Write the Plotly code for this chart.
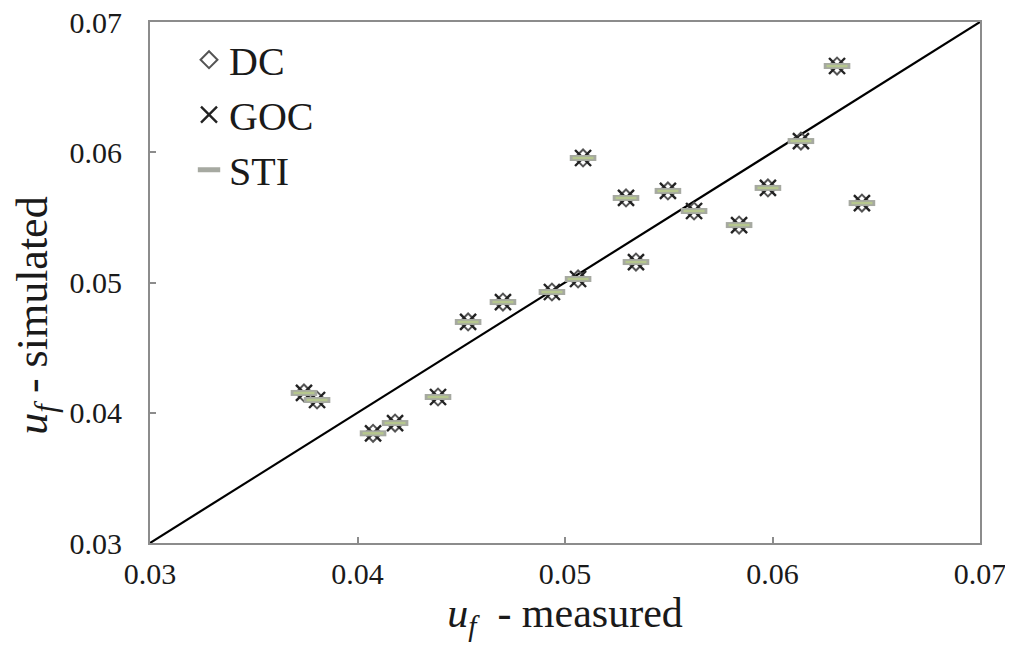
import plotly.graph_objects as go

measured = [0.03742, 0.03805, 0.04075, 0.04181, 0.04388, 0.04533, 0.04701, 0.04937,
            0.05063, 0.05087, 0.05294, 0.05342, 0.05496, 0.05622, 0.05839, 0.05978,
            0.06137, 0.06311, 0.06431]
dc_sim = [0.04152, 0.04098, 0.03842, 0.03921, 0.04121, 0.04697, 0.04850, 0.04927,
          0.05027, 0.05956, 0.05649, 0.05157, 0.05703, 0.05549, 0.05441, 0.05726,
          0.06086, 0.06662, 0.05610]
goc_sim = [0.04152, 0.04098, 0.03842, 0.03921, 0.04121, 0.04697, 0.04850, 0.04927,
           0.05027, 0.05956, 0.05649, 0.05157, 0.05703, 0.05549, 0.05441, 0.05726,
           0.06086, 0.06662, 0.05610]
sti_sim = [0.04152, 0.04098, 0.03842, 0.03921, 0.04121, 0.04697, 0.04850, 0.04927,
           0.05027, 0.05956, 0.05649, 0.05157, 0.05703, 0.05549, 0.05441, 0.05726,
           0.06086, 0.06662, 0.05610]
line_xy = [0.03, 0.07]
tick_vals = [0.03, 0.04, 0.05, 0.06, 0.07]
tick_text = ["0.03", "0.04", "0.05", "0.06", "0.07"]

FONT = "Liberation Serif"
TXT = "#1a1a1a"

fig = go.Figure()
fig.add_trace(go.Scatter(x=line_xy, y=line_xy, mode="lines",
                         line=dict(color="black", width=2.2), showlegend=False,
                         hoverinfo="skip"))
fig.add_trace(go.Scatter(x=measured, y=dc_sim, mode="markers", name="DC",
                         marker=dict(symbol="diamond-open", size=13, color="#555555",
                                     line=dict(width=2))))
fig.add_trace(go.Scatter(x=measured, y=goc_sim, mode="markers", name="GOC",
                         marker=dict(symbol="x-thin-open", size=16, color="#222222",
                                     line=dict(width=2.4))))
fig.add_trace(go.Scatter(x=measured, y=sti_sim, mode="markers", name="STI",
                         legendgroup="sti",
                         marker=dict(symbol="line-ew-open", size=19, color="#a6a9a1",
                                     line=dict(width=6))))
fig.add_trace(go.Scatter(x=measured, y=sti_sim, mode="markers", name="STI",
                         legendgroup="sti", showlegend=False, hoverinfo="skip",
                         marker=dict(symbol="line-ew-open", size=15, color="#b6c78e",
                                     line=dict(width=2.5))))

axis_common = dict(range=[0.03, 0.07], tickvals=tick_vals, ticktext=tick_text,
                   showgrid=False, zeroline=False, showline=True, mirror=True,
                   linecolor="#8c8c8c", linewidth=2, ticks="inside", ticklen=6,
                   tickcolor="#8c8c8c", tickwidth=1.5, ticklabeloverflow="allow",
                   automargin=False,
                   tickfont=dict(family=FONT, size=30, color=TXT))

fig.update_layout(
    width=1005, height=656,
    margin=dict(l=142, r=33, t=14, b=121, autoexpand=False),
    paper_bgcolor="white", plot_bgcolor="white",
    xaxis=dict(**axis_common, ticklabelstandoff=3,
               title=dict(text="<i>u</i><sub><i>f</i></sub>  - measured",
                          font=dict(family=FONT, size=42, color=TXT), standoff=2)),
    yaxis=dict(**axis_common, ticklabelstandoff=20,
               title=dict(text="<i>u</i><sub><i>f</i></sub> - simulated"
                               + "&nbsp;" * 6,
                          font=dict(family=FONT, size=44, color=TXT), standoff=14)),
    legend=dict(x=0.047, y=0.99, xanchor="left", yanchor="top",
                font=dict(family=FONT, size=40, color=TXT),
                bgcolor="rgba(0,0,0,0)", itemsizing="trace", tracegroupgap=0),
    showlegend=True,
)

fig.write_html("out.html")
